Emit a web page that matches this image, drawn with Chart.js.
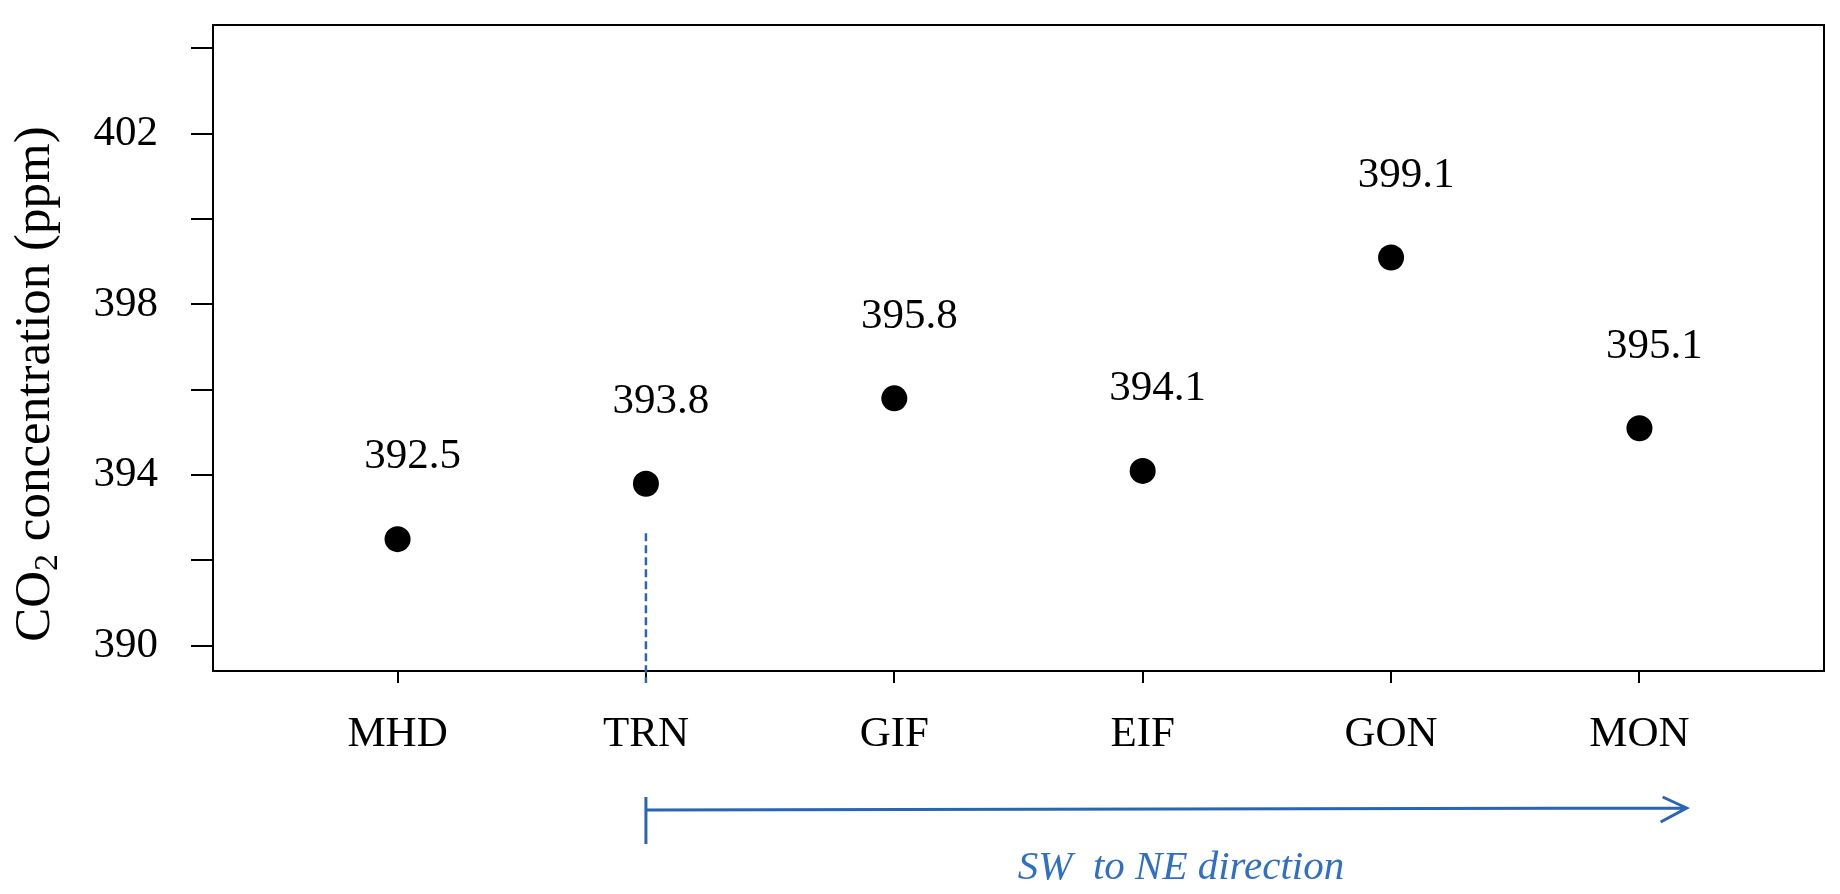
<!DOCTYPE html>
<html lang="en">
<head>
    <meta charset="UTF-8">
    <title>CO2 concentration by station</title>
    <script src="https://cdn.jsdelivr.net/npm/chart.js"></script>
    <style>
        body {
            margin: 0;
            padding: 0;
            background: #ffffff;
        }
        .wrap {
            position: relative;
            width: 1840px;
            height: 894px;
        }
    </style>
</head>
<body>
    <div class="wrap">
        <canvas id="co2Chart"></canvas>
    </div>
    <script>
        // stations (SW -> NE) and mean CO2 values
        const stations = ['MHD', 'TRN', 'GIF', 'EIF', 'GON', 'MON'];
        const co2 = [392.5, 393.8, 395.8, 394.1, 399.1, 395.1];
        const yTicks = [390, 392, 394, 396, 398, 400, 402, 404];
        const yLabeled = [390, 394, 398, 402];

        const serif = '"Liberation Serif", "DejaVu Serif", serif';
        const blue = '#2b63b5';

        // box round the plot area + y axis title (with a real subscript)
        const framePlugin = {
            id: 'frame',
            afterDraw(chart) {
                const { ctx, chartArea: a } = chart;
                ctx.save();
                ctx.strokeStyle = '#000';
                ctx.lineWidth = 2;
                ctx.strokeRect(a.left, a.top, a.right - a.left, a.bottom - a.top);

                // y title, rotated
                ctx.translate(36, 384);
                ctx.rotate(-Math.PI / 2);
                ctx.fillStyle = '#000';
                ctx.textBaseline = 'middle';
                const big = '51px ' + serif;
                const small = '34px ' + serif;
                const parts = [['CO', big, 0], ['2', small, 12], [' concentration (ppm)', big, 0]];
                let w = 0;
                parts.forEach(p => { ctx.font = p[1]; w += ctx.measureText(p[0]).width; });
                let x = -w / 2;
                ctx.textAlign = 'left';
                parts.forEach(p => {
                    ctx.font = p[1];
                    ctx.fillText(p[0], x, p[2]);
                    x += ctx.measureText(p[0]).width;
                });
                ctx.restore();
            }
        };

        // value labels above each point
        const valueLabels = {
            id: 'valueLabels',
            afterDatasetsDraw(chart) {
                const { ctx } = chart;
                const meta = chart.getDatasetMeta(0);
                ctx.save();
                ctx.font = '43px ' + serif;
                ctx.fillStyle = '#000';
                ctx.textAlign = 'center';
                ctx.textBaseline = 'middle';
                meta.data.forEach((pt, i) => {
                    ctx.fillText(co2[i].toFixed(1), pt.x + 15, pt.y - 82);
                });
                ctx.restore();
            }
        };

        // dashed marker at TRN and the SW -> NE arrow below the axis
        const directionArrow = {
            id: 'directionArrow',
            afterDraw(chart) {
                const { ctx, chartArea: a } = chart;
                const xs = chart.scales.x;
                const ys = chart.scales.y;
                const x0 = xs.getPixelForValue(1);
                const x1 = xs.getPixelForValue(5.19);
                const ay = 810;

                ctx.save();
                ctx.strokeStyle = blue;

                ctx.lineWidth = 2.5;
                ctx.setLineDash([8, 4]);
                ctx.beginPath();
                ctx.moveTo(x0, ys.getPixelForValue(392.64));
                ctx.lineTo(x0, a.bottom + 12);
                ctx.stroke();
                ctx.setLineDash([]);

                ctx.lineWidth = 3;
                ctx.beginPath();
                ctx.moveTo(x0, ay - 13);
                ctx.lineTo(x0, ay + 34);
                ctx.moveTo(x0, ay);
                ctx.lineTo(x1, ay - 2);
                ctx.moveTo(x1 - 24, ay - 13);
                ctx.lineTo(x1, ay - 2);
                ctx.lineTo(x1 - 26, ay + 12);
                ctx.stroke();

                ctx.font = 'italic 41px ' + serif;
                ctx.fillStyle = '#2f6fc4';
                ctx.textAlign = 'center';
                ctx.textBaseline = 'middle';
                ctx.fillText('SW  to NE direction', 1181, 868);
                ctx.restore();
            }
        };

        const ctx = document.getElementById('co2Chart').getContext('2d');

        const co2Chart = new Chart(ctx, {
            type: 'scatter',
            data: {
                datasets: [{
                    label: 'CO2',
                    data: co2.map((v, i) => ({ x: i, y: v })),
                    pointRadius: 13,
                    pointHoverRadius: 13,
                    pointBorderWidth: 0,
                    backgroundColor: '#000',
                    borderColor: '#000'
                }]
            },
            options: {
                responsive: true,
                maintainAspectRatio: false,
                animation: false,
                layout: { padding: { top: 25, right: 16, left: 0, bottom: 0 } },
                plugins: {
                    legend: { display: false },
                    tooltip: { enabled: false }
                },
                scales: {
                    x: {
                        type: 'linear',
                        min: -0.743,
                        max: 5.743,
                        afterBuildTicks: (scale) => {
                            scale.ticks = stations.map((_, i) => ({ value: i }));
                        },
                        afterFit: (scale) => {
                            scale.height = 223;
                            scale.paddingLeft = 0;
                            scale.paddingRight = 0;
                        },
                        ticks: {
                            callback: (v) => stations[v],
                            color: '#000',
                            font: { family: serif, size: 43 },
                            padding: 26,
                            maxRotation: 0
                        },
                        grid: {
                            drawOnChartArea: false,
                            drawTicks: true,
                            tickLength: 12,
                            color: '#000',
                            lineWidth: 2
                        },
                        border: { display: true, color: '#000', width: 2 }
                    },
                    y: {
                        min: 389.41,
                        max: 404.55,
                        afterBuildTicks: (scale) => {
                            scale.ticks = yTicks.map(v => ({ value: v }));
                        },
                        afterFit: (scale) => {
                            scale.width = 213;
                            scale.paddingTop = 0;
                            scale.paddingBottom = 0;
                        },
                        ticks: {
                            callback: (v) => yLabeled.includes(v) ? String(v) : '',
                            color: '#000',
                            font: { family: serif, size: 43 },
                            padding: 33
                        },
                        grid: {
                            drawOnChartArea: false,
                            drawTicks: true,
                            tickLength: 22,
                            color: '#000',
                            lineWidth: 2
                        },
                        border: { display: true, color: '#000', width: 2 }
                    }
                }
            },
            plugins: [framePlugin, valueLabels, directionArrow]
        });
    </script>
</body>
</html>
